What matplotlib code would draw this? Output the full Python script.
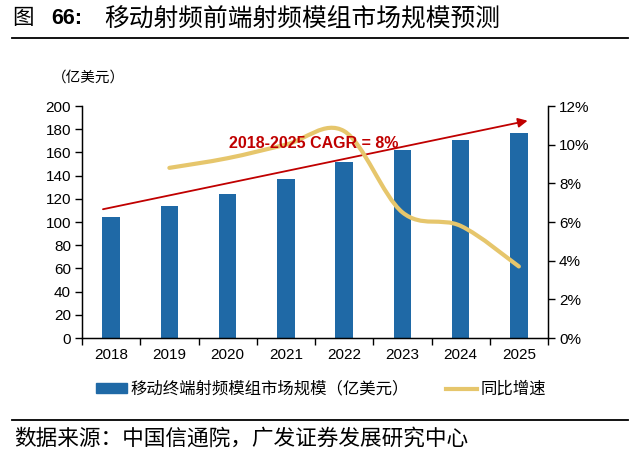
import numpy as np
import matplotlib.pyplot as plt
from matplotlib.path import Path
from matplotlib.patches import PathPatch, Patch
from matplotlib.lines import Line2D

plt.rcParams['font.family'] = ['Liberation Sans', 'Noto Sans CJK SC']

years = ['2018', '2019', '2020', '2021', '2022', '2023', '2024', '2025']
market = [104.6, 113.8, 124.4, 136.8, 151.4, 161.8, 171.0, 177.0]
growth = [8.8, 9.3, 10.0, 10.7, 6.5, 5.8, 3.7]   # % yoy, from 2019
cagr_start = 111.0
cagr_end = 187.3

blue = '#1f69a6'
gold = '#e6c66c'
red = '#c00000'

fig = plt.figure(figsize=(6.4, 4.59), dpi=100)
ax = fig.add_axes([82/640, 1-338/459, (548-82)/640, (338-106)/459])

x = np.arange(len(years))
ax.bar(x, market, width=0.3, color=blue, zorder=2)
ax.set_xlim(-0.5, len(years)-0.5)
ax.set_ylim(0, 200)
ax.set_yticks(range(0, 201, 20))
ax.set_xticks(x)
ax.set_xticklabels(years)
ax.set_xticks(np.arange(-0.5, len(years), 1), minor=True)
ax.tick_params(axis='x', which='major', length=0, pad=7, labelsize=11)
ax.tick_params(axis='x', which='minor', length=5, width=1, direction='out')
ax.tick_params(axis='y', length=5, width=1, direction='out', labelsize=11, pad=3)
ax.spines['top'].set_visible(False)
for s in ['left', 'bottom', 'right']:
    ax.spines[s].set_linewidth(1)

# CAGR arrow
ax.annotate('', xy=(7.15, cagr_end), xytext=(-0.14, cagr_start),
            arrowprops=dict(arrowstyle='-|>', color=red, lw=1.3,
                            mutation_scale=14, shrinkA=0, shrinkB=0))

ax2 = ax.twinx()
ax2.set_ylim(0, 12)
ax2.set_yticks(range(0, 13, 2))
ax2.set_yticklabels([f'{v}%' for v in range(0, 13, 2)])
ax2.tick_params(axis='y', length=5, width=1, direction='out', labelsize=11, pad=3)
ax2.spines['top'].set_visible(False)

# smoothed growth line (excel-style bezier through the points)
pts = np.column_stack([x[1:], growth]).astype(float)
verts = [pts[0]]
codes = [Path.MOVETO]
n = len(pts)
for i in range(n-1):
    p0 = pts[max(i-1, 0)]
    p1 = pts[i]
    p2 = pts[i+1]
    p3 = pts[min(i+2, n-1)]
    verts += [p1 + (p2-p0)/6, p2 - (p3-p1)/6, p2]
    codes += [Path.CURVE4]*3
ax2.add_patch(PathPatch(Path(verts, codes), fill=False, edgecolor=gold,
                        lw=3, capstyle='round', zorder=3))

# label sits above the gold line
ax2.text(2.03, 10.08, '2018-2025 CAGR = 8%', color=red, fontsize=11.5,
         fontweight='bold', ha='left', va='center', zorder=5)

fig.text(52/640, 1-78/459, '（亿美元）', fontsize=10.5, va='center', ha='left')

# title
fig.text(12/640, 1-19/459, '图', fontsize=15.5, va='center', ha='left')
fig.text(51/640, 1-19/459, '66:', fontsize=15.5, fontweight='bold', va='center', ha='left')
fig.text(104/640, 1-19/459, '移动射频前端射频模组市场规模预测', fontsize=17.8,
         va='center', ha='left')
fig.add_artist(Line2D([12/640, 628/640], [1-38/459, 1-38/459], color='black', lw=1.3))

handles = [Patch(color=blue), Line2D([], [], color=gold, lw=3)]
labels = ['移动终端射频模组市场规模（亿美元）', '同比增速']
fig.legend(handles, labels, loc='center', bbox_to_anchor=(321/640, 1-389/459),
           ncol=2, frameon=False, fontsize=11.8, handlelength=1.9,
           handleheight=0.5, handletextpad=0.2, columnspacing=2.3)

fig.add_artist(Line2D([12/640, 628/640], [1-420/459, 1-420/459], color='black', lw=1.3))
fig.text(14/640, 1-439/459, '数据来源：中国信通院，广发证券发展研究中心', fontsize=15.6,
         va='center', ha='left')

fig.savefig('out.png', dpi=100)
